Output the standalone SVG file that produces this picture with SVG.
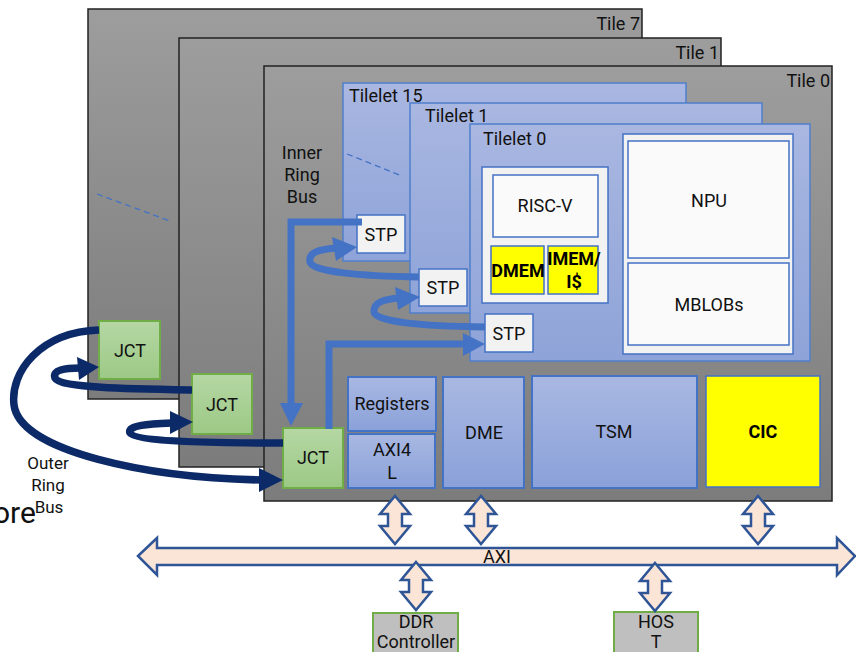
<svg xmlns="http://www.w3.org/2000/svg" xmlns:xlink="http://www.w3.org/1999/xlink" width="856" height="652" viewBox="0 0 856 652">
  <defs>
    <linearGradient id="gGray" x1="0" y1="0" x2="0" y2="1">
      <stop offset="0" stop-color="#9d9d9d"/>
      <stop offset="1" stop-color="#7c7c7c"/>
    </linearGradient>
    <linearGradient id="gTilelet" x1="0" y1="0" x2="0" y2="1">
      <stop offset="0" stop-color="#a9b7e1"/>
      <stop offset="1" stop-color="#8ea3d8"/>
    </linearGradient>
    <linearGradient id="gBlock" x1="0" y1="0" x2="0" y2="1">
      <stop offset="0" stop-color="#a9b8e2"/>
      <stop offset="1" stop-color="#8aa1d9"/>
    </linearGradient>
    <linearGradient id="gGreen" x1="0" y1="0" x2="0" y2="1">
      <stop offset="0" stop-color="#b5d7a4"/>
      <stop offset="1" stop-color="#9cc985"/>
    </linearGradient>
    <!-- vertical double-headed block arrow, tip at 0 and 48 -->
    <path id="vdbl" d="M0,0 L15,18 L7,18 L7,30 L15,30 L0,48 L-15,30 L-7,30 L-7,18 L-15,18 Z"/>
  </defs>
  <style>
    text { font-family: Roboto, "Liberation Sans", sans-serif; font-size: 18px; fill: #111; }
    .c { text-anchor: middle; }
    .e { text-anchor: end; }
    .b { font-weight: bold; fill: #000; }
    .tile { fill: url(#gGray); stroke: #222; stroke-width: 1.5; }
    .tilelet { fill: url(#gTilelet); stroke: #4f7fcc; stroke-width: 1.5; }
    .panel { fill: #f2f2f2; stroke: #4472c4; stroke-width: 1.5; }
    .inner { fill: #fafafa; stroke: #4472c4; stroke-width: 1.5; }
    .stp { fill: #f2f2f2; stroke: #4472c4; stroke-width: 1.5; }
    .mem { fill: #ffff00; stroke: #4472c4; stroke-width: 1.5; }
    .jct { fill: url(#gGreen); stroke: #70ad47; stroke-width: 2; }
    .blk { fill: url(#gBlock); stroke: #4472c4; stroke-width: 2; }
    .ext { fill: #bfbfbf; stroke: #70ad47; stroke-width: 2; }
    .bus { fill: #fbe5d6; stroke: #2f5597; stroke-width: 2.5; stroke-linejoin: miter; }
    .dash { stroke: #4472c4; stroke-width: 1.3; stroke-dasharray: 6 4; fill: none; }
    .inring { fill: none; stroke: #4472c4; stroke-width: 7; }
    .inhead { fill: #4472c4; }
    .outring { fill: none; stroke: #0c2a68; stroke-width: 7.5; }
    .outhead { fill: #0c2a68; }
  </style>

  <!-- tiles, back to front -->
  <g id="tile7">
    <rect class="tile" x="88" y="9" width="554" height="390"/>
    <text class="e" x="640" y="30">Tile 7</text>
    <line class="dash" x1="97" y1="194" x2="170" y2="221"/>
  </g>
  <g id="tile1">
    <rect class="tile" x="179" y="38" width="542" height="429"/>
    <text class="e" x="719" y="59">Tile 1</text>
  </g>
  <g id="tile0">
    <rect class="tile" x="264" y="66" width="568" height="435"/>
    <text class="e" x="830" y="87">Tile 0</text>
  </g>

  <!-- tilelets inside tile 0 -->
  <g id="tilelet15">
    <rect class="tilelet" x="343" y="83" width="343" height="178"/>
    <text x="349" y="102">Tilelet 15</text>
    <line class="dash" x1="347" y1="154" x2="402" y2="176"/>
  </g>
  <g id="tilelet1">
    <rect class="tilelet" x="410" y="103" width="352" height="210"/>
    <text x="425" y="122">Tilelet 1</text>
  </g>
  <g id="tilelet0">
    <rect class="tilelet" x="470" y="124" width="340" height="237"/>
    <text x="483" y="145">Tilelet 0</text>
  </g>

  <g id="core">
    <rect class="panel" x="482" y="167" width="126" height="136"/>
  </g>
  <g id="riscv">
    <rect class="inner" x="493" y="175" width="105" height="62"/>
    <text class="c" x="545" y="212">RISC-V</text>
  </g>
  <g id="dmem">
    <rect class="mem" x="491" y="246" width="53" height="48"/>
    <text class="c b" x="518" y="277">DMEM</text>
  </g>
  <g id="imem">
    <rect class="mem" x="548" y="246" width="50" height="48"/>
    <text class="c b" x="574" y="265">IMEM/</text>
    <text class="c b" x="574" y="288">I$</text>
  </g>
  <g id="npu-panel">
    <rect class="panel" x="623" y="134" width="170" height="220"/>
  </g>
  <g id="npu">
    <rect class="inner" x="628" y="141" width="161" height="117"/>
    <text class="c" x="709" y="207">NPU</text>
  </g>
  <g id="mblobs">
    <rect class="inner" x="628" y="263" width="161" height="82"/>
    <text class="c" x="709" y="311">MBLOBs</text>
  </g>

  <g id="stp15">
    <rect class="stp" x="357" y="215" width="48" height="38"/>
    <text class="c" x="381" y="241">STP</text>
  </g>
  <g id="stp1">
    <rect class="stp" x="419" y="269" width="48" height="37"/>
    <text class="c" x="443" y="294">STP</text>
  </g>
  <g id="stp0">
    <rect class="stp" x="485" y="314" width="48" height="38"/>
    <text class="c" x="509" y="340">STP</text>
  </g>

  <!-- tile 0 bottom row -->
  <g id="registers">
    <rect class="blk" x="348" y="377" width="88" height="54"/>
    <text class="c" x="392" y="410">Registers</text>
  </g>
  <g id="axi4l">
    <rect class="blk" x="348" y="434" width="87" height="54"/>
    <text class="c" x="392" y="456">AXI4</text>
    <text class="c" x="392" y="479">L</text>
  </g>
  <g id="dme">
    <rect class="blk" x="443" y="377" width="81" height="111"/>
    <text class="c" x="484" y="439">DME</text>
  </g>
  <g id="tsm">
    <rect class="blk" x="532" y="376" width="165" height="112"/>
    <text class="c" x="614" y="438">TSM</text>
  </g>
  <g id="cic">
    <rect class="mem" x="706" y="376" width="114" height="111"/>
    <text class="c b" x="763" y="438">CIC</text>
  </g>

  <!-- junctions -->
  <g id="jct7">
    <rect class="jct" x="99" y="321" width="61" height="58"/>
    <text class="c" x="130" y="357">JCT</text>
  </g>
  <g id="jct1">
    <rect class="jct" x="192" y="374" width="60" height="60"/>
    <text class="c" x="222" y="411">JCT</text>
  </g>
  <g id="jct0">
    <rect class="jct" x="283" y="428" width="60" height="60"/>
    <text class="c" x="313" y="464">JCT</text>
  </g>

  <!-- external blocks -->
  <g id="ddr">
    <rect class="ext" x="373" y="613" width="85" height="45"/>
    <text class="c" x="416" y="628">DDR</text>
    <text class="c" x="416" y="648">Controller</text>
  </g>
  <g id="host">
    <rect class="ext" x="614" y="612" width="84" height="46"/>
    <text class="c" x="656" y="628">HOS</text>
    <text class="c" x="656" y="648">T</text>
  </g>

  <!-- labels -->
  <g id="labels">
    <text class="c" x="302" y="159">Inner</text>
    <text class="c" x="302" y="181">Ring</text>
    <text class="c" x="302" y="203">Bus</text>
    <text class="c" x="48" y="469" style="font-size:17px">Outer</text>
    <text class="c" x="48" y="491" style="font-size:17px">Ring</text>
    <text x="-7" y="523" style="font-size:30px">ore</text>
    <text class="c" x="49" y="513" style="font-size:17px">Bus</text>
  </g>

  <g id="connectors">
    <!-- inner ring bus -->
    <path class="inring" d="M362,222 H291 V405"/>
    <polygon class="inhead" points="280,403 303,403 291,426"/>
    <path class="inring" d="M329,429 V344 H464"/>
    <polygon class="inhead" points="463,333 463,356 485,344"/>
    <path class="inring" d="M419,277 C360,276 312,272 310,262 C308,252 320,249 338,248"/>
    <polygon class="inhead" points="332,237 336,261 357,247"/>
    <path class="inring" d="M485,327 C420,326 376,322 374,312 C373,302 385,299 400,298"/>
    <polygon class="inhead" points="395,287 398,310 420,297"/>

    <!-- outer ring bus -->
    <path class="outring" d="M99,330 C40,332 10,372 14,405 C20,452 150,478 262,480"/>
    <polygon class="outhead" points="259,468 259,492 283,480"/>
    <path class="outring" d="M192,390 C130,389 60,388 55,378 C52,370 65,368 80,368"/>
    <polygon class="outhead" points="77,357 79,380 99,367"/>
    <path class="outring" d="M283,443 C220,443 135,442 130,433 C127,425 150,424 172,423"/>
    <polygon class="outhead" points="170,411 170,434 193,422"/>

    <!-- AXI bus -->
    <polygon class="bus" points="138,556 157,538 157,548 837,548 837,538 855,556 837,575 837,565 157,565 157,575"/>
    <use xlink:href="#vdbl" class="bus" x="395" y="496"/>
    <use xlink:href="#vdbl" class="bus" x="481" y="496"/>
    <use xlink:href="#vdbl" class="bus" x="758" y="496"/>
    <use xlink:href="#vdbl" class="bus" x="416" y="562"/>
    <use xlink:href="#vdbl" class="bus" x="655" y="563"/>
    <text x="483" y="563">AXI</text>
  </g>
</svg>
